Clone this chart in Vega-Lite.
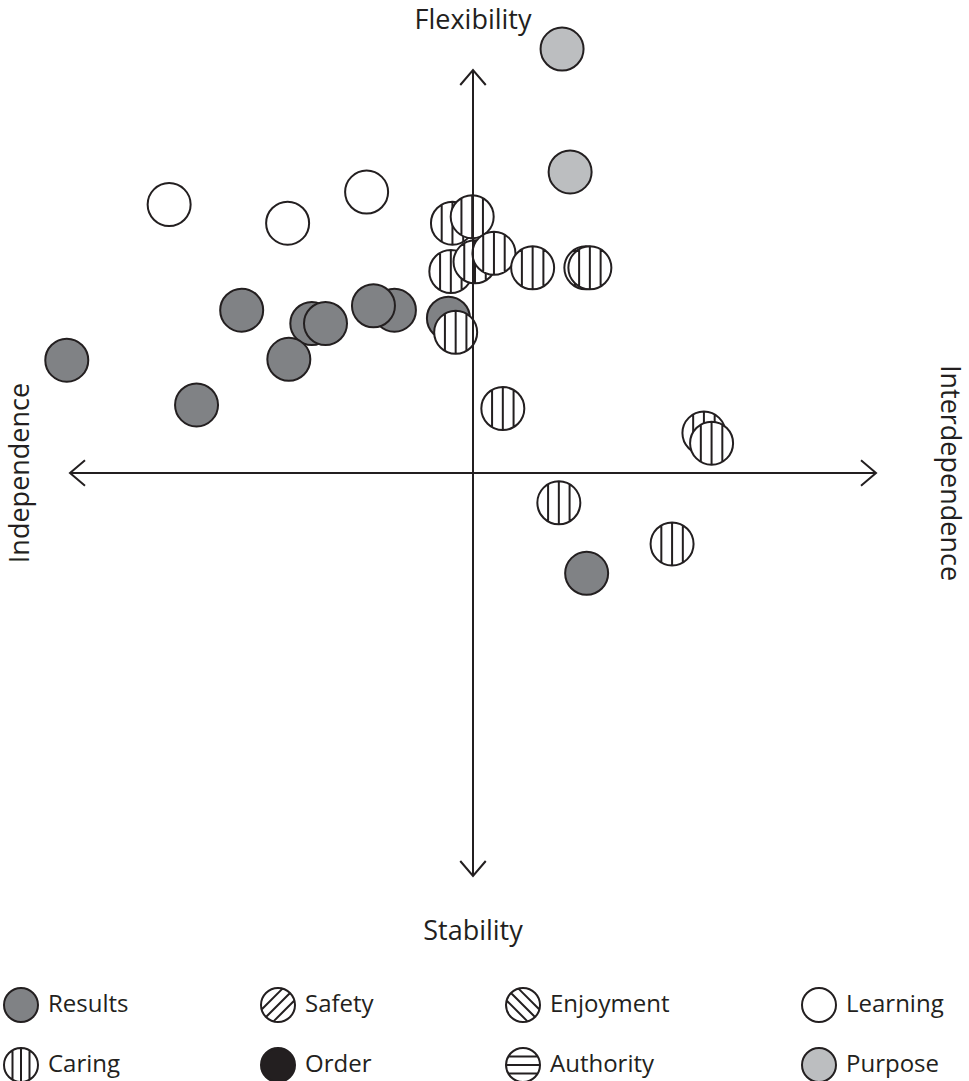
{
  "$schema": "https://vega.github.io/schema/vega-lite/v6.json",
  "width": 806,
  "height": 806,
  "autosize": "none",
  "padding": {"left": 70, "top": 70, "right": 93, "bottom": 205},
  "background": "white",
  "layer": [
    {
      "data": {"values": [
        {"category": "Results", "u": 28.2, "v": -24.9},
        {"category": "Results", "u": -57.4, "v": 40.4},
        {"category": "Results", "u": -40.0, "v": 37.1},
        {"category": "Results", "u": -36.6, "v": 37.1},
        {"category": "Results", "u": -19.5, "v": 40.4},
        {"category": "Results", "u": -24.7, "v": 41.5},
        {"category": "Results", "u": -100.8, "v": 28.0},
        {"category": "Results", "u": -45.7, "v": 28.2},
        {"category": "Results", "u": -68.6, "v": 16.9},
        {"category": "Results", "u": -6.1, "v": 38.4},
        {"category": "Learning", "u": -75.4, "v": 66.6},
        {"category": "Learning", "u": -46.0, "v": 62.0},
        {"category": "Learning", "u": -26.4, "v": 69.7},
        {"category": "Purpose", "u": 22.1, "v": 105.2},
        {"category": "Purpose", "u": 24.1, "v": 74.7},
        {"category": "Caring", "u": -5.1, "v": 62.0},
        {"category": "Caring", "u": -0.2, "v": 63.6},
        {"category": "Caring", "u": -5.5, "v": 50.0},
        {"category": "Caring", "u": 0.5, "v": 52.4},
        {"category": "Caring", "u": 5.2, "v": 54.5},
        {"category": "Caring", "u": 14.8, "v": 50.9},
        {"category": "Caring", "u": 28.0, "v": 50.9},
        {"category": "Caring", "u": 29.0, "v": 50.9},
        {"category": "Caring", "u": -4.3, "v": 34.9},
        {"category": "Caring", "u": 7.4, "v": 16.0},
        {"category": "Caring", "u": 57.3, "v": 9.9},
        {"category": "Caring", "u": 59.2, "v": 7.4},
        {"category": "Caring", "u": 21.3, "v": -7.4},
        {"category": "Caring", "u": 49.4, "v": -17.6}
      ]},
      "mark": {"type": "point", "filled": true, "opacity": 1, "stroke": "#231f20", "strokeWidth": 2, "size": 1849},
      "encoding": {
        "x": {"field": "u", "type": "quantitative", "scale": {"domain": [-100, 100], "nice": false}, "axis": null},
        "y": {"field": "v", "type": "quantitative", "scale": {"domain": [-100, 100], "nice": false}, "axis": null},
        "fill": {
          "field": "category", "type": "nominal",
          "scale": {
            "domain": ["Results", "Safety", "Enjoyment", "Learning", "Caring", "Order", "Authority", "Purpose"],
            "range": ["#808285", "#ffffff", "#ffffff", "#ffffff", "#ffffff", "#231f20", "#ffffff", "#bcbec0"]
          },
          "legend": {"title": null, "encode": {"symbols": {"update": {"stroke": {"value": "#231f20"}, "strokeWidth": {"value": 2}, "opacity": {"value": 1}}}}}
        },
        "shape": {
          "field": "category", "type": "nominal",
          "scale": {
            "domain": ["Results", "Safety", "Enjoyment", "Learning", "Caring", "Order", "Authority", "Purpose"],
            "range": [
              "M -1 0 A 1 1 0 1 1 1 0 A 1 1 0 1 1 -1 0 Z",
              "M -1 0 A 1 1 0 1 1 1 0 A 1 1 0 1 1 -1 0 Z M -0.707 0.707 L 0.707 -0.707 M -0.264 0.964 L 0.964 -0.264 M -0.964 0.264 L 0.264 -0.964",
              "M -1 0 A 1 1 0 1 1 1 0 A 1 1 0 1 1 -1 0 Z M -0.707 -0.707 L 0.707 0.707 M 0.264 0.964 L -0.964 -0.264 M 0.964 0.264 L -0.264 -0.964",
              "M -1 0 A 1 1 0 1 1 1 0 A 1 1 0 1 1 -1 0 Z",
              "M -1 0 A 1 1 0 1 1 1 0 A 1 1 0 1 1 -1 0 Z M 0 -1 L 0 1 M -0.5 -0.866 L -0.5 0.866 M 0.5 -0.866 L 0.5 0.866",
              "M -1 0 A 1 1 0 1 1 1 0 A 1 1 0 1 1 -1 0 Z",
              "M -1 0 A 1 1 0 1 1 1 0 A 1 1 0 1 1 -1 0 Z M -1 0 L 1 0 M -0.866 -0.5 L 0.866 -0.5 M -0.866 0.5 L 0.866 0.5",
              "M -1 0 A 1 1 0 1 1 1 0 A 1 1 0 1 1 -1 0 Z"
            ]
          },
          "legend": {"title": null, "encode": {"symbols": {"update": {"stroke": {"value": "#231f20"}, "strokeWidth": {"value": 2}, "opacity": {"value": 1}}}}}
        }
      }
    },
    {
      "data": {"values": [
        {"u": -100, "v": 0, "u2": 100, "v2": 0},
        {"u": 0, "v": -100, "u2": 0, "v2": 100}
      ]},
      "mark": {"type": "rule", "color": "#231f20", "strokeWidth": 2},
      "encoding": {
        "x": {"field": "u", "type": "quantitative", "axis": null},
        "y": {"field": "v", "type": "quantitative", "axis": null},
        "x2": {"field": "u2"},
        "y2": {"field": "v2"}
      }
    },
    {
      "data": {"values": [{"dir": "left", "u": -100, "v": 0}]},
      "mark": {"type": "point", "filled": false, "opacity": 1, "color": "#231f20", "strokeWidth": 2, "size": 900, "shape": "M 1 -0.85 L 0 0 L 1 0.85"},
      "encoding": {
        "x": {"field": "u", "type": "quantitative", "axis": null},
        "y": {"field": "v", "type": "quantitative", "axis": null}
      }
    },
    {
      "data": {"values": [{"dir": "right", "u": 100, "v": 0}]},
      "mark": {"type": "point", "filled": false, "opacity": 1, "color": "#231f20", "strokeWidth": 2, "size": 900, "shape": "M -1 -0.85 L 0 0 L -1 0.85"},
      "encoding": {
        "x": {"field": "u", "type": "quantitative", "axis": null},
        "y": {"field": "v", "type": "quantitative", "axis": null}
      }
    },
    {
      "data": {"values": [{"dir": "up", "u": 0, "v": 100}]},
      "mark": {"type": "point", "filled": false, "opacity": 1, "color": "#231f20", "strokeWidth": 2, "size": 900, "shape": "M -0.85 1 L 0 0 L 0.85 1"},
      "encoding": {
        "x": {"field": "u", "type": "quantitative", "axis": null},
        "y": {"field": "v", "type": "quantitative", "axis": null}
      }
    },
    {
      "data": {"values": [{"dir": "down", "u": 0, "v": -100}]},
      "mark": {"type": "point", "filled": false, "opacity": 1, "color": "#231f20", "strokeWidth": 2, "size": 900, "shape": "M -0.85 -1 L 0 0 L 0.85 -1"},
      "encoding": {
        "x": {"field": "u", "type": "quantitative", "axis": null},
        "y": {"field": "v", "type": "quantitative", "axis": null}
      }
    },
    {
      "data": {"values": [
        {"label": "Flexibility", "u": 0, "v": 110.2},
        {"label": "Stability", "u": 0, "v": -115.9}
      ]},
      "mark": {"type": "text", "font": "Open Sans", "fontSize": 27, "fontWeight": 500, "color": "#231f20", "align": "center", "baseline": "alphabetic"},
      "encoding": {
        "x": {"field": "u", "type": "quantitative", "axis": null},
        "y": {"field": "v", "type": "quantitative", "axis": null},
        "text": {"field": "label"}
      }
    },
    {
      "data": {"values": [{"label": "Independence", "u": -110.2, "v": 0}]},
      "mark": {"type": "text", "font": "Open Sans", "fontSize": 27, "fontWeight": 500, "color": "#231f20", "align": "center", "baseline": "alphabetic", "angle": 270},
      "encoding": {
        "x": {"field": "u", "type": "quantitative", "axis": null},
        "y": {"field": "v", "type": "quantitative", "axis": null},
        "text": {"field": "label"}
      }
    },
    {
      "data": {"values": [{"label": "Interdependence", "u": 116.2, "v": 0}]},
      "mark": {"type": "text", "font": "Open Sans", "fontSize": 27, "fontWeight": 500, "color": "#231f20", "align": "center", "baseline": "alphabetic", "angle": 90},
      "encoding": {
        "x": {"field": "u", "type": "quantitative", "axis": null},
        "y": {"field": "v", "type": "quantitative", "axis": null},
        "text": {"field": "label"}
      }
    }
  ],
  "config": {
    "view": {"stroke": null},
    "legend": {
      "orient": "none",
      "direction": "horizontal",
      "legendX": -67,
      "legendY": 917,
      "columns": 4,
      "columnPadding": 128,
      "rowPadding": 18,
      "padding": 0,
      "symbolSize": 1156,
      "symbolStrokeWidth": 2,
      "symbolStrokeColor": "#231f20",
      "symbolOpacity": 1,
      "labelFont": "Open Sans",
      "labelFontSize": 24,
      "labelColor": "#231f20",
      "labelOffset": 9,
      "labelLimit": 300
    }
  }
}
